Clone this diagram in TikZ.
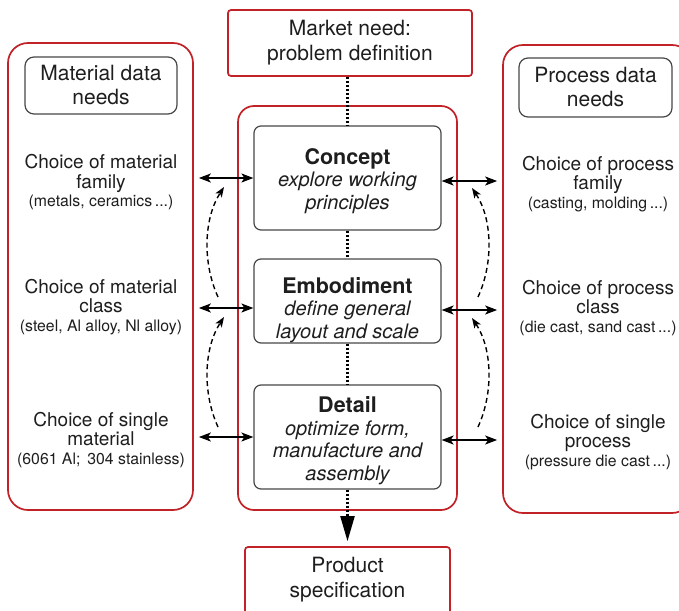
\documentclass[tikz,border=0pt]{standalone}
\usepackage{fontspec}
\setmainfont{TeX Gyre Heros}
\usetikzlibrary{arrows.meta}
\definecolor{boxred}{RGB}{192,34,40}
\definecolor{edgegray}{RGB}{72,72,72}
\definecolor{ink}{RGB}{30,30,30}
\newcommand{\smallnote}[1]{{\fontsize{15.8}{17}\selectfont #1}}

\begin{document}
\begin{tikzpicture}[x=1pt,y=-1pt,
  redframe/.style={draw=boxred, line width=1.7pt, inner sep=0pt},
  column/.style={redframe, rounded corners=20pt},
  core/.style={redframe, rounded corners=16pt},
  flat/.style={redframe, rounded corners=3pt, text=ink, align=center,
    font=\fontsize{21}{25}\selectfont},
  stagebox/.style={draw=edgegray, line width=1.2pt, rounded corners=7pt, inner sep=0pt},
  headbox/.style={stagebox, rounded corners=9pt, text=ink, align=center,
    font=\fontsize{21}{24}\selectfont},
  coltext/.style={text=ink, align=center, inner sep=0pt,
    font=\fontsize{19}{19.5}\selectfont},
  stagetext/.style={text=ink, align=center, inner sep=0pt,
    font=\fontsize{20}{22.5}\selectfont\itshape},
  dbl/.style={line width=1.5pt,
    {Stealth[length=12pt,width=9pt,inset=3pt]}-{Stealth[length=12pt,width=9pt,inset=3pt]}},
  feedback/.style={line width=1.4pt, dash pattern=on 5pt off 3.5pt,
    -{Stealth[length=10pt,width=7.5pt,inset=2.5pt]}},
  dotline/.style={line width=2.2pt, dash pattern=on 2pt off 2pt}
]
\useasboundingbox (0,0) rectangle (679,610);
\fill[white] (0,0) rectangle (679,610);

% outer frames
\node[column, minimum width=185pt, minimum height=467pt] (matcol) at (100.5,276.5) {};
\node[column, minimum width=189pt, minimum height=468pt] (proccol) at (597.5,279) {};
\node[core, minimum width=219pt, minimum height=404pt] (design) at (347.5,308) {};
\node[flat, minimum width=244pt, minimum height=66pt] (market) at (350,43)
  {Market need:\\problem definition};
\node[flat, minimum width=205pt, minimum height=83pt] (product) at (347.5,588.5) {};
\node[coltext, font=\fontsize{21}{25}\selectfont] (productT) at (347.5,580)
  {Product\\specification};

% column headers
\node[headbox, minimum width=152pt, minimum height=57pt] (matneed) at (101,85.5)
  {Material data\\needs};
\node[headbox, minimum width=153pt, minimum height=59pt] (procneed) at (595.5,87.5)
  {Process data\\needs};

% design stages
\node[stagebox, minimum width=187pt, minimum height=104pt] (concept) at (347.5,178) {};
\node[stagebox, minimum width=187pt, minimum height=84pt] (emb) at (347.5,301) {};
\node[stagebox, minimum width=187pt, minimum height=104pt] (detail) at (347.5,437) {};

\node[stagetext] (conceptT) at (347.5,181)
  {{\upshape\bfseries\fontsize{21.5}{22.5}\selectfont Concept}\\explore working\\principles};
\node[stagetext] (embT) at (347.5,310)
  {{\upshape\bfseries\fontsize{21.5}{22.5}\selectfont Embodiment}\\define general\\layout and scale};
\node[stagetext] (detailT) at (347.5,440.5)
  {{\upshape\bfseries\fontsize{21.5}{22.5}\selectfont Detail}\\optimize form,\\manufacture and\\assembly};

% material column
\node[coltext] (matA) at (101,182.5)
  {Choice of material\\family\\[-1pt]\smallnote{(metals, ceramics\,...)}};
\node[coltext] (matB) at (101,307)
  {Choice of material\\class\\[-1pt]\smallnote{(steel, Al alloy, Nl alloy)}};
\node[coltext] (matC) at (101,440)
  {Choice of single\\material\\[-1pt]\smallnote{(6061 Al;\, 304 stainless)}};

% process column
\node[coltext] (procA) at (598,184)
  {Choice of process\\family\\[-1pt]\smallnote{(casting, molding\,...)}};
\node[coltext] (procB) at (598,308)
  {Choice of process\\class\\[-1pt]\smallnote{(die cast, sand cast\,...)}};
\node[coltext] (procC) at (598,442)
  {Choice of single\\process\\[-1pt]\smallnote{(pressure die cast\,...)}};

% main flow
\draw[dotline] (concept.north |- market.south) -- (concept.north);
\draw[dotline] (concept.south) -- (emb.north);
\draw[dotline] (emb.south) -- (detail.north);
\draw[dotline, -{Triangle[length=25pt,width=14pt]}, shorten >=5pt]
  (detail.south) -- (product.north);

% exchanges with the data columns
\draw[dbl, shorten <=5pt] (matcol.east |- concept.west) -- (concept.west);
\draw[dbl, shorten <=5pt] ([yshift=-7pt]emb.west -| matcol.east) -- ([yshift=-7pt]emb.west);
\draw[dbl, shorten <=5pt] (matcol.east |- detail.west) -- (detail.west);
\draw[dbl, shorten >=5pt] ([yshift=-3pt]concept.east) -- ([yshift=-3pt]concept.east -| proccol.west);
\draw[dbl, shorten >=5pt] ([yshift=-9pt]emb.east) -- ([yshift=-9pt]emb.east -| proccol.west);
\draw[dbl, shorten >=5pt] ([yshift=-3pt]detail.east) -- ([yshift=-3pt]detail.east -| proccol.west);

% iteration loops
\coordinate (mLoopA) at (218,297);
\coordinate (mLoopB) at (224,187);
\coordinate (mLoopC) at (218,427);
\coordinate (mLoopD) at (224,317);
\coordinate (pLoopA) at (478,297);
\coordinate (pLoopB) at (472,188);
\coordinate (pLoopC) at (478,427);
\coordinate (pLoopD) at (472,318);
\draw[feedback] (mLoopA) .. controls (202,262) and (204,218) .. (mLoopB);
\draw[feedback] (mLoopC) .. controls (202,392) and (204,348) .. (mLoopD);
\draw[feedback] (pLoopA) .. controls (494,262) and (492,218) .. (pLoopB);
\draw[feedback] (pLoopC) .. controls (494,392) and (492,348) .. (pLoopD);
\end{tikzpicture}
\end{document}
